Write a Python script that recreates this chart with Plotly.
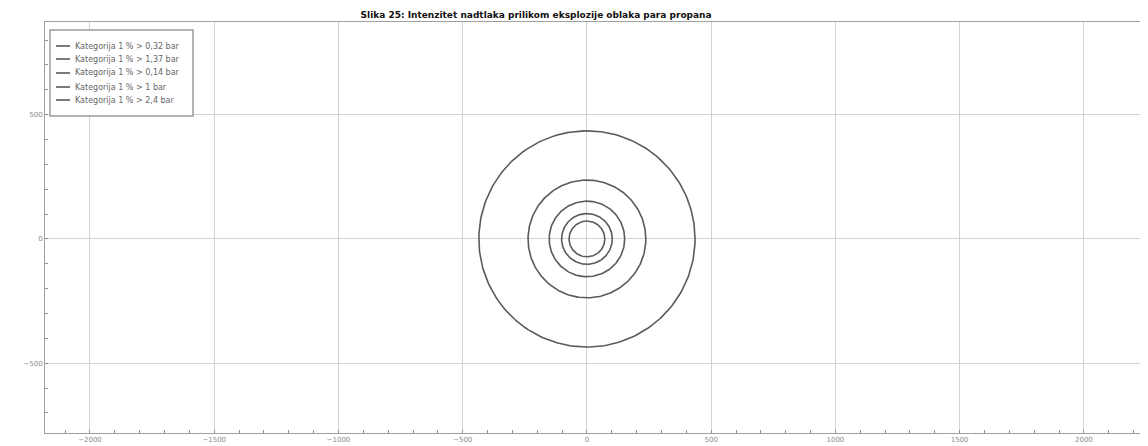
import numpy as np
import plotly.graph_objects as go

# Data
labels = [
    "Kategorija 1 % > 0,32 bar",
    "Kategorija 1 % > 1,37 bar",
    "Kategorija 1 % > 0,14 bar",
    "Kategorija 1 % > 1 bar",
    "Kategorija 1 % > 2,4 bar",
]
radii = [435, 237, 152, 102, 72]
center_x = [0, 0, 0, 0, 0]
center_y = [0, 0, 0, 0, 0]
x_ticks = [-2000, -1500, -1000, -500, 0, 500, 1000, 1500, 2000]
y_ticks = [-500, 0, 500]
title_text = "Slika 25: Intenzitet nadtlaka prilikom eksplozije oblaka para propana"

W, H = 1148, 446
ML, MR, MT, MB = 37, 7, 14, 21
PW, PH = W - ML - MR, H - MT - MB


def px_x(px):
    return (px - ML) / PW


def px_y(py):
    return (H - MB - py) / PH


theta = np.linspace(0, 2 * np.pi, 241)
line_color = "#5a5a5a"

fig = go.Figure()
for lab, r, cx, cy in zip(labels, radii, center_x, center_y):
    fig.add_trace(go.Scatter(
        x=cx + r * np.cos(theta),
        y=cy + r * np.sin(theta),
        mode="lines",
        name=lab,
        line=dict(color=line_color, width=1.6),
        hoverinfo="name",
        showlegend=False,
    ))

# compact legend box drawn with shapes + text annotations
shapes = [dict(type="rect", xref="paper", yref="paper",
               x0=px_x(42), x1=px_x(185), y0=px_y(108), y1=px_y(22),
               line=dict(color="#9a9a9a", width=1.5), fillcolor="white", layer="above")]
annotations = []
row_y = [38, 51, 65, 79, 92]
for lab, ry in zip(labels, row_y):
    shapes.append(dict(type="line", xref="paper", yref="paper",
                       x0=px_x(48), x1=px_x(62), y0=px_y(ry), y1=px_y(ry),
                       line=dict(color=line_color, width=1.6), layer="above"))
    annotations.append(dict(xref="paper", yref="paper", x=px_x(65), y=px_y(ry),
                            xanchor="left", yanchor="middle", showarrow=False,
                            text=lab, font=dict(family="DejaVu Sans", size=8, color="#666")))

axis_common = dict(
    showline=True, linecolor="#a0a0a0", linewidth=1, mirror=True,
    showgrid=True, gridcolor="#d2d2d2", gridwidth=1,
    zeroline=False, automargin=False,
    ticks="", tickfont=dict(family="DejaVu Sans", size=7, color="#8a8a8a"),
    minor=dict(dtick=100, ticks="inside", ticklen=3, tickcolor="#909090", showgrid=False),
)

fig.update_layout(
    width=W, height=H,
    margin=dict(l=ML, r=MR, t=MT, b=MB),
    paper_bgcolor="white", plot_bgcolor="white",
    title=dict(text="<b>" + title_text + "</b>", x=0.46, xanchor="center",
               y=1 - 7 / H, yref="container", yanchor="middle", pad=dict(t=0, b=0),
               font=dict(family="DejaVu Sans", size=9, color="#111")),
    xaxis=dict(range=[-2181, 2262], tickvals=x_ticks, **axis_common),
    yaxis=dict(range=[-781, 873], tickvals=y_ticks, **axis_common),
    shapes=shapes,
    annotations=annotations,
    showlegend=False,
)

fig.write_html("out.html")
